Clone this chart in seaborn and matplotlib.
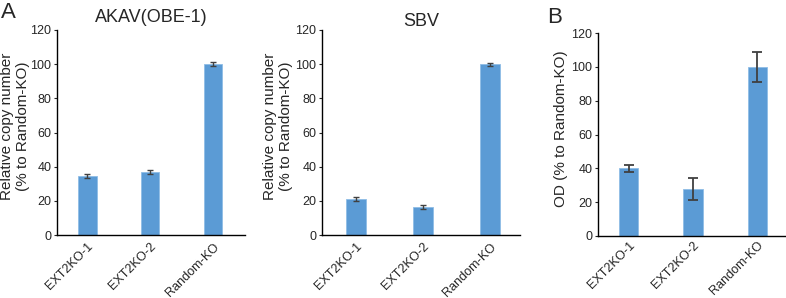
import numpy as np
import pandas as pd
import seaborn as sns
import matplotlib
matplotlib.use("Agg")
import matplotlib.pyplot as plt
from matplotlib.transforms import ScaledTranslation

sns.set_style("white")
plt.rcParams['font.family'] = ['Liberation Sans', 'DejaVu Sans']

# data
groups = ['EXT2KO-1', 'EXT2KO-2', 'Random-KO']
akav_mean = [34.5, 37.0, 100.0]
akav_err = [1.0, 1.1, 1.0]
sbv_mean = [21.0, 16.5, 100.0]
sbv_err = [1.2, 1.0, 0.9]
od_mean = [40.0, 27.5, 100.0]
od_err = [2.0, 6.5, 9.0]

bar_col = '#5b9bd5'
err_col = '#404040'

fig = plt.figure(figsize=(7.86, 2.98), dpi=100)
W, H = 786, 298

def px_axes(left, right, top, bottom):
    return fig.add_axes([left / W, 1 - bottom / H, (right - left) / W, (bottom - top) / H])

def draw(ax, means, errs, ylabel, title, xlim, capsize, lw, lab_dx, tpad, xpad=4):
    df = pd.DataFrame({'group': groups, 'value': means})
    sns.barplot(data=df, x='group', y='value', ax=ax, color=bar_col,
                width=0.3, errorbar=None, saturation=1,
                edgecolor='#8fbde6', linewidth=0.6)
    ax.errorbar(np.arange(len(groups)), means, yerr=errs, fmt='none',
                ecolor=err_col, elinewidth=lw, capsize=capsize, capthick=lw)
    ax.set_ylim(0, 120)
    ax.set_yticks(range(0, 121, 20))
    ax.set_xlim(*xlim)
    ax.set_xlabel('')
    ax.set_ylabel(ylabel, fontsize=11)
    # place label by pixel offset from the axis line
    bb = ax.get_position()
    ax.yaxis.set_label_coords(lab_dx / (bb.width * W), 0.53)
    ax.set_xticks(range(len(groups)))
    ax.set_xticklabels(groups, rotation=45, ha='right', rotation_mode='anchor',
                       fontsize=9.1)
    off = ScaledTranslation(4 / 100, 0, fig.dpi_scale_trans)
    for t in ax.get_xticklabels():
        t.set_transform(t.get_transform() + off)
    ax.tick_params(axis='y', labelsize=9, length=2, width=0.8, left=True,
                   direction='out', pad=2)
    ax.tick_params(axis='x', length=0, pad=xpad)
    for s in ['top', 'right']:
        ax.spines[s].set_visible(False)
    for s in ['left', 'bottom']:
        ax.spines[s].set_color('black')
        ax.spines[s].set_linewidth(1.0)
    if title:
        ax.set_title(title, fontsize=13, pad=tpad)

ax1 = px_axes(57, 245, 30, 235)
draw(ax1, akav_mean, akav_err, 'Relative copy number\n(% to Random-KO)',
     'AKAV(OBE-1)', (-0.48, 2.51), 2, 1.0, -27, 6)

ax2 = px_axes(322, 520, 30, 235)
draw(ax2, sbv_mean, sbv_err, 'Relative copy number\n(% to Random-KO)',
     'SBV', (-0.51, 2.45), 2, 1.0, -29, 3)

ax3 = px_axes(598, 786, 33, 236)
draw(ax3, od_mean, od_err, 'OD (% to Random-KO)', None,
     (-0.48, 2.45), 3.5, 1.3, -30, 6, xpad=2.5)

fig.text(1 / W, 1 - 2 / H, 'A', fontsize=16, va='top', ha='left')
fig.text(547 / W, 1 - 7 / H, 'B', fontsize=16, va='top', ha='left')

fig.savefig('out.png', dpi=100)
